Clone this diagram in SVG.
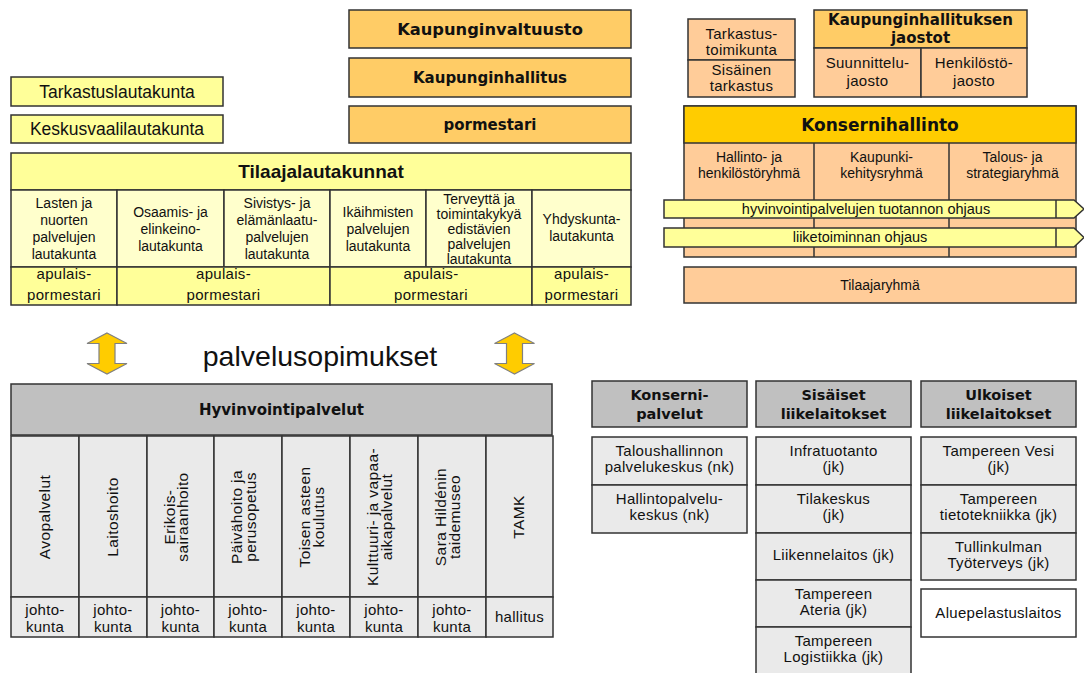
<svg xmlns="http://www.w3.org/2000/svg" width="1084" height="673" viewBox="0 0 1084 673">
  <defs>
    <style>
      .bx{stroke:#333;stroke-width:1.5}
      .y1{fill:#FFFF99}
      .y2{fill:#FFFFCC}
      .or{fill:#FFCC66}
      .pe{fill:#FFCC99}
      .gd{fill:#FFCC00}
      .g1{fill:#C0C0C0}
      .g2{fill:#EAEAEA}
      .wh{fill:#FFFFFF}
      .ln{stroke:#333;stroke-width:1.5;fill:none}
      text{font-family:"Liberation Sans",Arial,sans-serif;fill:#111;text-anchor:middle}
      .t14{font-size:14px}
      .t15{font-size:15px;letter-spacing:0.3px}
      .tv{font-size:15.5px;letter-spacing:0.4px}
      .t17{font-size:17.5px}
      .tb{font-family:"DejaVu Sans",Verdana,sans-serif;font-weight:bold}
      .ab{font-weight:bold}
      .arr{fill:#FFCC00;stroke:#808080;stroke-width:1.2}
    </style>
    <!-- vertical two-way arrow, centred on the origin -->
    <path id="updown" class="arr" d="M0,-20.5 L20,-10 L8,-10 L8,10 L20,10 L0,20.5 L-20,10 L-8,10 L-8,-10 L-20,-10 Z"/>
  </defs>

  <rect width="1084" height="673" fill="#FFFFFF"/>

  <!-- boards outside the orderer table -->
  <g id="tarkastuslautakunta">
    <rect class="bx y1" x="11" y="77" width="212" height="29"/>
    <text class="t17" x="117" y="97.5">Tarkastuslautakunta</text>
  </g>
  <g id="keskusvaalilautakunta">
    <rect class="bx y1" x="11" y="115" width="212" height="28"/>
    <text class="t17" x="117" y="135">Keskusvaalilautakunta</text>
  </g>

  <!-- council, board, mayor -->
  <g id="kaupunginvaltuusto">
    <rect class="bx or" x="349" y="10" width="282" height="38"/>
    <text class="tb" font-size="16.3" x="490" y="35">Kaupunginvaltuusto</text>
  </g>
  <g id="kaupunginhallitus">
    <rect class="bx or" x="349" y="58" width="282" height="39"/>
    <text class="tb" font-size="15" x="490" y="83">Kaupunginhallitus</text>
  </g>
  <g id="pormestari">
    <rect class="bx or" x="349" y="106" width="282" height="37"/>
    <text class="tb" font-size="15" x="490" y="130">pormestari</text>
  </g>

  <!-- orderer boards table -->
  <g id="tilaajalautakunnat">
    <rect class="bx y1" x="11" y="153" width="620" height="37"/>
    <text class="ab" font-size="19" x="321" y="178">Tilaajalautakunnat</text>

    <rect class="bx y2" x="11" y="190" width="106" height="77"/>
    <rect class="bx y2" x="117" y="190" width="107" height="77"/>
    <rect class="bx y2" x="224" y="190" width="106" height="77"/>
    <rect class="bx y2" x="330" y="190" width="96" height="77"/>
    <rect class="bx y2" x="426" y="190" width="106" height="77"/>
    <rect class="bx y2" x="532" y="190" width="99" height="77"/>

    <rect class="bx y1" x="11" y="267" width="106" height="38"/>
    <rect class="bx y1" x="117" y="267" width="213" height="38"/>
    <rect class="bx y1" x="330" y="267" width="202" height="38"/>
    <rect class="bx y1" x="532" y="267" width="99" height="38"/>

    <text class="t14" x="64"><tspan x="64" y="208">Lasten ja</tspan><tspan x="64" y="225">nuorten</tspan><tspan x="64" y="242">palvelujen</tspan><tspan x="64" y="259">lautakunta</tspan></text>
    <text class="t14" x="170.5"><tspan x="170.5" y="216.5">Osaamis- ja</tspan><tspan x="170.5" y="233.5">elinkeino-</tspan><tspan x="170.5" y="250.5">lautakunta</tspan></text>
    <text class="t14" x="277"><tspan x="277" y="208">Sivistys- ja</tspan><tspan x="277" y="225">elämänlaatu-</tspan><tspan x="277" y="242">palvelujen</tspan><tspan x="277" y="259">lautakunta</tspan></text>
    <text class="t14" x="378"><tspan x="378" y="216.5">Ikäihmisten</tspan><tspan x="378" y="233.5">palvelujen</tspan><tspan x="378" y="250.5">lautakunta</tspan></text>
    <text class="t14" x="479"><tspan x="479" y="204">Terveyttä ja</tspan><tspan x="479" y="219">toimintakykyä</tspan><tspan x="479" y="234">edistävien</tspan><tspan x="479" y="249">palvelujen</tspan><tspan x="479" y="264">lautakunta</tspan></text>
    <text class="t14" x="581.5"><tspan x="581.5" y="224">Yhdyskunta-</tspan><tspan x="581.5" y="241">lautakunta</tspan></text>

    <text class="t15" x="64"><tspan x="64" y="279">apulais-</tspan><tspan x="64" y="300">pormestari</tspan></text>
    <text class="t15" x="223.5"><tspan x="223.5" y="279">apulais-</tspan><tspan x="223.5" y="300">pormestari</tspan></text>
    <text class="t15" x="431"><tspan x="431" y="279">apulais-</tspan><tspan x="431" y="300">pormestari</tspan></text>
    <text class="t15" x="581.5"><tspan x="581.5" y="279">apulais-</tspan><tspan x="581.5" y="300">pormestari</tspan></text>
  </g>

  <!-- audit -->
  <g id="tarkastustoimikunta">
    <rect class="bx pe" x="688" y="19" width="107" height="41"/>
    <text class="t15" x="741.5"><tspan x="741.5" y="39">Tarkastus-</tspan><tspan x="741.5" y="55">toimikunta</tspan></text>
  </g>
  <g id="sisainen-tarkastus">
    <rect class="bx pe" x="688" y="60" width="107" height="37"/>
    <text class="t15" x="741.5"><tspan x="741.5" y="75">Sisäinen</tspan><tspan x="741.5" y="91">tarkastus</tspan></text>
  </g>

  <!-- board divisions -->
  <g id="jaostot">
    <rect class="bx or" x="814" y="10" width="213" height="38"/>
    <text class="tb" font-size="15" x="920.5"><tspan x="920.5" y="25">Kaupunginhallituksen</tspan><tspan x="920.5" y="43">jaostot</tspan></text>
    <rect class="bx pe" x="814" y="48" width="107" height="49"/>
    <rect class="bx pe" x="921" y="48" width="106" height="49"/>
    <text class="t15" x="867.5"><tspan x="867.5" y="68">Suunnittelu-</tspan><tspan x="867.5" y="86">jaosto</tspan></text>
    <text class="t15" x="974"><tspan x="974" y="68">Henkilöstö-</tspan><tspan x="974" y="86">jaosto</tspan></text>
  </g>

  <!-- group administration -->
  <g id="konsernihallinto">
    <rect class="bx pe" x="684" y="106" width="392" height="151"/>
    <rect class="bx gd" x="684" y="106" width="392" height="37"/>
    <text class="tb" font-size="17" x="880" y="131">Konsernihallinto</text>
    <line class="ln" x1="814" y1="143" x2="814" y2="257"/>
    <line class="ln" x1="949" y1="143" x2="949" y2="257"/>
    <text class="t14" x="749"><tspan x="749" y="162">Hallinto- ja</tspan><tspan x="749" y="178">henkilöstöryhmä</tspan></text>
    <text class="t14" x="881.5"><tspan x="881.5" y="162">Kaupunki-</tspan><tspan x="881.5" y="178">kehitysryhmä</tspan></text>
    <text class="t14" x="1012.5"><tspan x="1012.5" y="162">Talous- ja</tspan><tspan x="1012.5" y="178">strategiaryhmä</tspan></text>
  </g>

  <!-- steering bands across the groups -->
  <g id="ohjaus-hyvinvointi">
    <polygon class="bx y1" points="664,200 1074,200 1084,209 1074,218 664,218"/>
    <line class="ln" x1="1056" y1="200" x2="1056" y2="218"/>
    <text font-size="14.5" x="866" y="214">hyvinvointipalvelujen tuotannon ohjaus</text>
  </g>
  <g id="ohjaus-liiketoiminta">
    <polygon class="bx y1" points="664,228 1074,228 1084,237.5 1074,247 664,247"/>
    <line class="ln" x1="1056" y1="228" x2="1056" y2="247"/>
    <text font-size="14.5" x="860" y="242">liiketoiminnan ohjaus</text>
  </g>

  <g id="tilaajaryhma">
    <rect class="bx pe" x="684" y="267" width="392" height="36"/>
    <text class="t14" x="880" y="290">Tilaajaryhmä</text>
  </g>

  <!-- service agreements -->
  <g id="connectors">
    <use href="#updown" x="107" y="353.5"/>
    <use href="#updown" x="514.5" y="353.5"/>
  </g>
  <g id="palvelusopimukset">
    <text font-size="28.5" x="320" y="366">palvelusopimukset</text>
  </g>

  <!-- welfare services -->
  <g id="hyvinvointipalvelut">
    <rect class="bx g1" x="11" y="384" width="541" height="51"/>
    <text class="tb" font-size="15" x="281.5" y="415">Hyvinvointipalvelut</text>
  </g>

  <g id="palveluyksikot">
    <rect class="bx g2" x="11" y="436" width="68" height="161"/>
    <rect class="bx g2" x="79" y="436" width="68" height="161"/>
    <rect class="bx g2" x="147" y="436" width="67" height="161"/>
    <rect class="bx g2" x="214" y="436" width="68" height="161"/>
    <rect class="bx g2" x="282" y="436" width="68" height="161"/>
    <rect class="bx g2" x="350" y="436" width="68" height="161"/>
    <rect class="bx g2" x="418" y="436" width="68" height="161"/>
    <rect class="bx g2" x="486" y="436" width="67" height="161"/>

    <rect class="bx g2" x="11" y="597" width="68" height="40"/>
    <rect class="bx g2" x="79" y="597" width="68" height="40"/>
    <rect class="bx g2" x="147" y="597" width="67" height="40"/>
    <rect class="bx g2" x="214" y="597" width="68" height="40"/>
    <rect class="bx g2" x="282" y="597" width="68" height="40"/>
    <rect class="bx g2" x="350" y="597" width="68" height="40"/>
    <rect class="bx g2" x="418" y="597" width="68" height="40"/>
    <rect class="bx g2" x="486" y="597" width="67" height="40"/>

    <text class="tv" transform="translate(45,517) rotate(-90)" x="0" y="5">Avopalvelut</text>
    <text class="tv" transform="translate(113,517) rotate(-90)" x="0" y="5">Laitoshoito</text>
    <text class="tv" transform="translate(180.5,517) rotate(-90)"><tspan x="0" y="-6">Erikois-</tspan><tspan x="0" y="7.5">sairaanhoito</tspan></text>
    <text class="tv" transform="translate(248,517) rotate(-90)"><tspan x="0" y="-6">Päivähoito ja</tspan><tspan x="0" y="7.5">perusopetus</tspan></text>
    <text class="tv" transform="translate(316,517) rotate(-90)"><tspan x="0" y="-6">Toisen asteen</tspan><tspan x="0" y="7.5">koulutus</tspan></text>
    <text class="tv" transform="translate(384,517) rotate(-90)"><tspan x="0" y="-6">Kulttuuri- ja vapaa-</tspan><tspan x="0" y="7.5">aikapalvelut</tspan></text>
    <text class="tv" transform="translate(452,517) rotate(-90)"><tspan x="0" y="-6">Sara Hildénin</tspan><tspan x="0" y="7.5">taidemuseo</tspan></text>
    <text class="tv" transform="translate(519.5,517) rotate(-90)" x="0" y="4">TAMK</text>

    <text class="t15"><tspan x="45" y="615">johto-</tspan><tspan x="45" y="632">kunta</tspan></text>
    <text class="t15"><tspan x="113" y="615">johto-</tspan><tspan x="113" y="632">kunta</tspan></text>
    <text class="t15"><tspan x="180.5" y="615">johto-</tspan><tspan x="180.5" y="632">kunta</tspan></text>
    <text class="t15"><tspan x="248" y="615">johto-</tspan><tspan x="248" y="632">kunta</tspan></text>
    <text class="t15"><tspan x="316" y="615">johto-</tspan><tspan x="316" y="632">kunta</tspan></text>
    <text class="t15"><tspan x="384" y="615">johto-</tspan><tspan x="384" y="632">kunta</tspan></text>
    <text class="t15"><tspan x="452" y="615">johto-</tspan><tspan x="452" y="632">kunta</tspan></text>
    <text class="t15" x="519.5" y="622">hallitus</text>
  </g>

  <!-- group services -->
  <g id="konsernipalvelut">
    <rect class="bx g1" x="592" y="381" width="155" height="46"/>
    <text class="tb" font-size="14.5"><tspan x="669.5" y="400">Konserni-</tspan><tspan x="669.5" y="419">palvelut</tspan></text>
    <rect class="bx g2" x="592" y="437" width="155" height="48"/>
    <text class="t15"><tspan x="669.5" y="456">Taloushallinnon</tspan><tspan x="669.5" y="472">palvelukeskus (nk)</tspan></text>
    <rect class="bx g2" x="592" y="485" width="155" height="48"/>
    <text class="t15"><tspan x="669.5" y="504">Hallintopalvelu-</tspan><tspan x="669.5" y="520">keskus (nk)</tspan></text>
  </g>

  <!-- internal municipal enterprises -->
  <g id="sisaiset-liikelaitokset">
    <rect class="bx g1" x="756" y="381" width="155" height="46"/>
    <text class="tb" font-size="14.5"><tspan x="833.5" y="400">Sisäiset</tspan><tspan x="833.5" y="419">liikelaitokset</tspan></text>
    <rect class="bx g2" x="756" y="437" width="155" height="48"/>
    <text class="t15"><tspan x="833.5" y="456">Infratuotanto</tspan><tspan x="833.5" y="472">(jk)</tspan></text>
    <rect class="bx g2" x="756" y="485" width="155" height="48"/>
    <text class="t15"><tspan x="833.5" y="504">Tilakeskus</tspan><tspan x="833.5" y="520">(jk)</tspan></text>
    <rect class="bx g2" x="756" y="533" width="155" height="47"/>
    <text class="t15" x="833.5" y="560">Liikennelaitos (jk)</text>
    <rect class="bx g2" x="756" y="580" width="155" height="47"/>
    <text class="t15"><tspan x="833.5" y="598.5">Tampereen</tspan><tspan x="833.5" y="614.5">Ateria (jk)</tspan></text>
    <rect class="bx g2" x="756" y="627" width="155" height="50"/>
    <text class="t15"><tspan x="833.5" y="645.5">Tampereen</tspan><tspan x="833.5" y="661.5">Logistiikka (jk)</tspan></text>
  </g>

  <!-- external municipal enterprises -->
  <g id="ulkoiset-liikelaitokset">
    <rect class="bx g1" x="921" y="381" width="155" height="46"/>
    <text class="tb" font-size="14.5"><tspan x="998.5" y="400">Ulkoiset</tspan><tspan x="998.5" y="419">liikelaitokset</tspan></text>
    <rect class="bx g2" x="921" y="437" width="155" height="48"/>
    <text class="t15"><tspan x="998.5" y="456">Tampereen Vesi</tspan><tspan x="998.5" y="472">(jk)</tspan></text>
    <rect class="bx g2" x="921" y="485" width="155" height="48"/>
    <text class="t15"><tspan x="998.5" y="504">Tampereen</tspan><tspan x="998.5" y="520">tietotekniikka (jk)</tspan></text>
    <rect class="bx g2" x="921" y="533" width="155" height="47"/>
    <text class="t15"><tspan x="998.5" y="551.5">Tullinkulman</tspan><tspan x="998.5" y="567.5">Työterveys (jk)</tspan></text>
  </g>
  <g id="aluepelastuslaitos">
    <rect class="bx wh" x="921" y="589" width="155" height="48"/>
    <text class="t15" x="998.5" y="618">Aluepelastuslaitos</text>
  </g>
</svg>
